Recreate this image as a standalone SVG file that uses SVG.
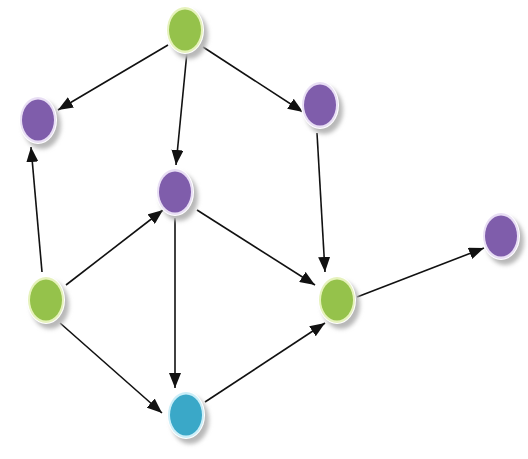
<svg xmlns="http://www.w3.org/2000/svg" width="528" height="459" viewBox="0 0 528 459">
  <style>
    .edge { stroke: #111; stroke-width: 1.6; fill: none; marker-end: url(#arrow); }
    .shadow { fill: #b8b8b8; filter: url(#soft); }
    .ring { fill: #ffffff; }
    .green .glow { fill: #e6f2bc; }
    .green .core { fill: #95c24b; }
    .purple .glow { fill: #e8def4; }
    .purple .core { fill: #7f5dab; }
    .blue .glow { fill: #cbeef8; }
    .blue .core { fill: #3aa8c8; }
  </style>
  <defs>
    <marker id="arrow" viewBox="0 0 15 12" refX="15" refY="6" markerWidth="15" markerHeight="12" markerUnits="userSpaceOnUse" orient="auto">
      <path d="M0,0 L15,6 L0,12 Z" fill="#111"/>
    </marker>
    <filter id="soft" x="-30%" y="-30%" width="160%" height="160%">
      <feGaussianBlur stdDeviation="2"/>
    </filter>
  </defs>
  <rect width="528" height="459" fill="#ffffff"/>

  <g id="connectors">
    <line class="edge" x1="168" y1="45" x2="58" y2="110"/>
    <line class="edge" x1="187" y1="52" x2="176" y2="165"/>
    <line class="edge" x1="203" y1="47" x2="303" y2="112"/>
    <line class="edge" x1="317" y1="133" x2="325" y2="272"/>
    <line class="edge" x1="42" y1="272" x2="31" y2="147"/>
    <line class="edge" x1="66" y1="285" x2="163" y2="210"/>
    <line class="edge" x1="60" y1="323" x2="162" y2="413"/>
    <line class="edge" x1="175" y1="218" x2="175" y2="388"/>
    <line class="edge" x1="197" y1="210" x2="315" y2="285"/>
    <line class="edge" x1="205" y1="402" x2="325" y2="323"/>
    <line class="edge" x1="357" y1="297" x2="484" y2="248"/>
  </g>

  <!-- each node: soft drop shadow, white rim, tinted halo, solid core -->
  <g id="node-top" class="green" transform="translate(185,30)">
    <ellipse class="shadow" cx="4" cy="5" rx="19" ry="24"/>
    <ellipse class="ring" rx="19" ry="24"/>
    <ellipse class="glow" rx="18" ry="23"/>
    <ellipse class="core" rx="16" ry="20.5"/>
  </g>
  <g id="node-left-upper" class="purple" transform="translate(38,120)">
    <ellipse class="shadow" cx="4" cy="5" rx="19" ry="24"/>
    <ellipse class="ring" rx="19" ry="24"/>
    <ellipse class="glow" rx="18" ry="23"/>
    <ellipse class="core" rx="16" ry="20.5"/>
  </g>
  <g id="node-center" class="purple" transform="translate(175,192)">
    <ellipse class="shadow" cx="4" cy="5" rx="19" ry="24"/>
    <ellipse class="ring" rx="19" ry="24"/>
    <ellipse class="glow" rx="18" ry="23"/>
    <ellipse class="core" rx="16" ry="20.5"/>
  </g>
  <g id="node-right-upper" class="purple" transform="translate(320,105)">
    <ellipse class="shadow" cx="4" cy="5" rx="19" ry="24"/>
    <ellipse class="ring" rx="19" ry="24"/>
    <ellipse class="glow" rx="18" ry="23"/>
    <ellipse class="core" rx="16" ry="20.5"/>
  </g>
  <g id="node-left-lower" class="green" transform="translate(46,300)">
    <ellipse class="shadow" cx="4" cy="5" rx="19" ry="24"/>
    <ellipse class="ring" rx="19" ry="24"/>
    <ellipse class="glow" rx="18" ry="23"/>
    <ellipse class="core" rx="16" ry="20.5"/>
  </g>
  <g id="node-right-lower" class="green" transform="translate(337,300)">
    <ellipse class="shadow" cx="4" cy="5" rx="19" ry="24"/>
    <ellipse class="ring" rx="19" ry="24"/>
    <ellipse class="glow" rx="18" ry="23"/>
    <ellipse class="core" rx="16" ry="20.5"/>
  </g>
  <g id="node-far-right" class="purple" transform="translate(501,236)">
    <ellipse class="shadow" cx="4" cy="5" rx="19" ry="24"/>
    <ellipse class="ring" rx="19" ry="24"/>
    <ellipse class="glow" rx="18" ry="23"/>
    <ellipse class="core" rx="16" ry="20.5"/>
  </g>
  <g id="node-bottom" class="blue" transform="translate(186,415)">
    <ellipse class="shadow" cx="4" cy="5" rx="19" ry="24"/>
    <ellipse class="ring" rx="19" ry="24"/>
    <ellipse class="glow" rx="18" ry="23"/>
    <ellipse class="core" rx="16" ry="20.5"/>
  </g>
</svg>
